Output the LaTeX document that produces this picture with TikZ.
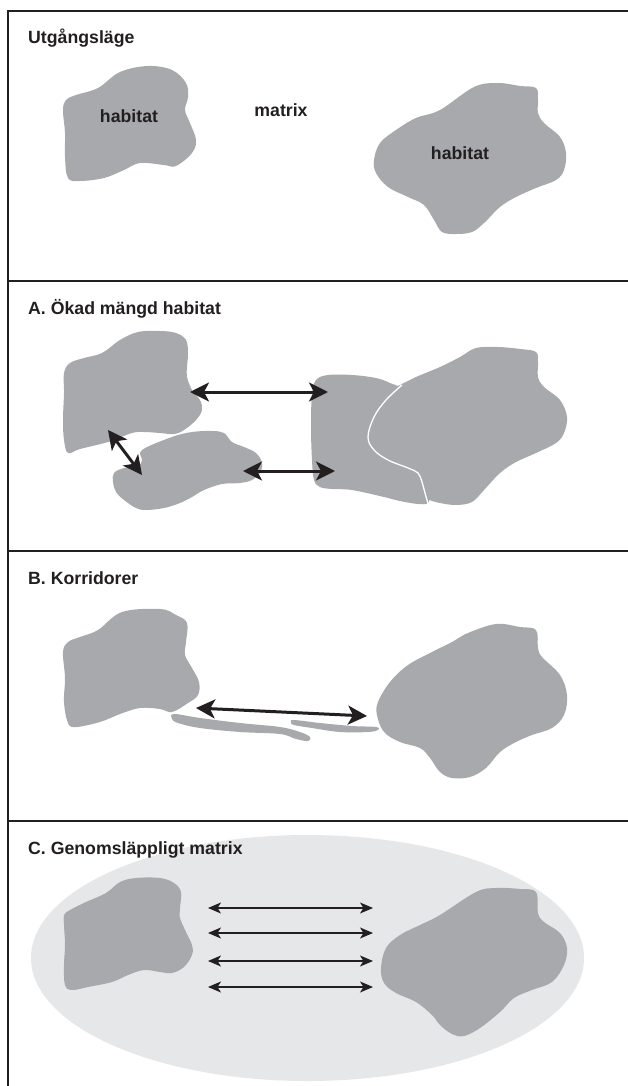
\documentclass[tikz,border=0pt]{standalone}
\usepackage{fontspec}
\setmainfont{Liberation Sans}
\usetikzlibrary{arrows.meta}
\definecolor{blobgray}{HTML}{A7A9AC}
\definecolor{matrixbg}{HTML}{E6E7E8}
\definecolor{ink}{HTML}{231F20}
\begin{document}
\begin{tikzpicture}[x=1pt,y=-1pt,
  blobfill/.style={fill=blobgray},
  rule/.style={draw=ink, line width=1.4pt},
  ptitle/.style={anchor=base west, font=\bfseries\fontsize{17.7}{20}\selectfont, text=ink, inner sep=0pt},
  plabel/.style={anchor=base, font=\bfseries\fontsize{17.7}{20}\selectfont, text=ink, inner sep=0pt},
  heavyarrow/.style={draw=ink, line width=3pt, {Stealth[length=19pt,width=19pt,inset=5pt]}-{Stealth[length=19pt,width=19pt,inset=5pt]}},
  lightarrow/.style={draw=ink, line width=1.4pt, {Stealth[length=13pt,width=11pt,inset=3.5pt]}-{Stealth[length=13pt,width=11pt,inset=3.5pt]}},
  sm/.style={smooth cycle, tension=0.6}
]
\useasboundingbox (0,0) rectangle (628,1086);
\fill[white] (0,0) rectangle (628,1086);

% ---------- frame ----------
\draw[rule] (628,11) -- (8,11) -- (8,1086);
\draw[rule] (8,281) -- (628,281);
\draw[rule] (8,551) -- (628,551);
\draw[rule] (8,821) -- (628,821);

% ---------- Utgangslage ----------
\fill[blobfill] plot[sm] coordinates {(98,88) (120,72) (148,66) (172,70) (186,83) (188,97) (185,110) (190,123) (196,140) (192,153) (176,166) (164,165) (140,163) (124,170) (104,178) (80,181) (68,178) (65,157) (65,133) (63,110) (66,100) (76,95)};
\fill[blobfill] plot[sm] coordinates {(440,110) (474,87) (498,83) (520,86) (536,88) (538,100) (538,113) (544,123) (560,137) (566,153) (564,170) (556,180) (536,188) (516,197) (500,207) (484,223) (472,232) (456,234) (442,232) (434,220) (424,205) (408,197) (388,187) (376,173) (374,160) (380,143) (396,130) (416,118)};
\node[ptitle] (t0) at (28,44) {Utgångsläge};
\node[plabel] (h1) at (129,123) {habitat};
\node[plabel] (mx) at (281,117) {matrix};
\node[plabel] (h2) at (460,160) {habitat};

% ---------- A ----------
\fill[blobfill] plot[sm] coordinates {(70,363) (84,358) (102,353) (120,340) (138,332) (160,331) (176,333) (186,340) (188,353) (187,367) (187,377) (192,390) (200,400) (202,410) (196,420) (184,430) (174,434) (160,433) (144,432) (132,433) (108,442) (80,449) (68,453) (64,440) (63,420) (64,393) (64,373)};
\fill[blobfill] plot[sm] coordinates {(142,450) (172,437) (192,432) (212,431) (224,433) (232,442) (244,447) (256,453) (262,463) (260,473) (252,480) (240,483) (222,484) (204,490) (192,497) (180,503) (164,508) (146,510) (136,508) (124,500) (116,492) (113,482) (114,473) (124,468) (138,466) (142,460)};
\fill[blobfill] plot[sm] coordinates {(400,385) (416,377) (440,367) (460,357) (476,348) (498,347) (520,349) (536,352) (538,363) (538,377) (544,387) (560,400) (567,417) (564,433) (556,443) (536,453) (516,462) (500,473) (484,490) (472,502) (456,505) (440,503) (429,500) (418,496) (395,478) (372,462) (360,437) (368,410) (385,392)};
\fill[blobfill] plot[sm] coordinates {(312,393) (316,380) (328,375) (352,375) (376,378) (390,383) (399,388) (392,400) (382,417) (376,437) (382,450) (396,458) (414,466) (424,474) (428,485) (429,494) (428,503) (418,504) (400,501) (384,497) (352,490) (332,489) (320,487) (314,480) (312,460) (311,427)};
\draw[white, line width=1.3pt] plot[smooth, tension=0.6] coordinates {(402,385) (386,400) (374,417) (368,437) (374,450) (388,460) (408,468) (418,473) (422,482) (425,493) (429,507)};
\node[ptitle] (tA) at (28,314) {A. Ökad mängd habitat};
\coordinate (a1l) at (190,392);
\coordinate (a1r) at (328,392);
\coordinate (a2l) at (243,471);
\coordinate (a2r) at (335,471);
\coordinate (a3t) at (108,430);
\coordinate (a3b) at (142,475);
\draw[heavyarrow] (a1l) -- (a1r);
\draw[heavyarrow] (a2l) -- (a2r);
\draw[heavyarrow] (a3t) -- (a3b);

% ---------- B ----------
\fill[blobfill] plot[sm] coordinates {(98,630) (122,612) (160,609) (176,615) (187,623) (186,642) (185,655) (192,668) (199,682) (198,695) (188,703) (172,712) (160,709) (140,708) (120,714) (100,722) (76,727) (68,723) (64,702) (65,678) (63,652) (68,642) (80,637)};
\fill[blobfill] plot[sm] coordinates {(468,633) (496,624) (520,627) (536,630) (538,648) (542,657) (560,675) (567,695) (564,715) (552,728) (532,735) (516,742) (500,752) (486,768) (470,777) (452,778) (440,772) (430,758) (420,748) (400,742) (384,732) (377,715) (378,702) (390,682) (408,665) (432,652) (452,642)};
\fill[blobfill] plot[sm] coordinates {(174,714) (200,718) (240,723) (280,727) (300,732) (310,737) (308,741) (296,739) (280,734) (240,732) (200,728) (178,723) (172,719)};
\fill[blobfill] plot[sm] coordinates {(294,720) (320,723) (352,726) (376,727) (378,730) (368,732) (340,732) (312,728) (294,725) (291,722)};
\node[ptitle] (tB) at (28,584) {B. Korridorer};
\coordinate (bl) at (196,708);
\coordinate (br) at (367,716);
\draw[heavyarrow] (bl) -- (br);

% ---------- C ----------
\fill[matrixbg] (307.5,958) ellipse [x radius=276.5pt, y radius=123pt];
\fill[blobfill] plot[sm] coordinates {(70,910) (86,902) (106,893) (120,882) (136,878) (160,878) (174,883) (181,892) (180,908) (180,918) (186,932) (192,945) (192,955) (184,967) (172,973) (160,972) (144,970) (128,975) (112,982) (88,987) (72,990) (65,985) (64,965) (65,945) (64,925) (64,915)};
\fill[blobfill] plot[sm] coordinates {(440,915) (476,892) (496,888) (520,889) (536,892) (538,913) (544,922) (560,933) (567,948) (564,965) (552,982) (532,990) (514,998) (500,1012) (480,1028) (464,1036) (452,1034) (440,1025) (432,1015) (416,1002) (396,993) (384,983) (381,968) (386,948) (400,935) (420,925)};
\node[ptitle] (tC) at (28,854) {C. Genomsläppligt matrix};
\foreach \i/\yy in {1/908,2/933,3/961,4/987}{
  \coordinate (cl\i) at (208,\yy);
  \coordinate (cr\i) at (373,\yy);
  \draw[lightarrow] (cl\i) -- (cr\i);
}
\end{tikzpicture}
\end{document}
